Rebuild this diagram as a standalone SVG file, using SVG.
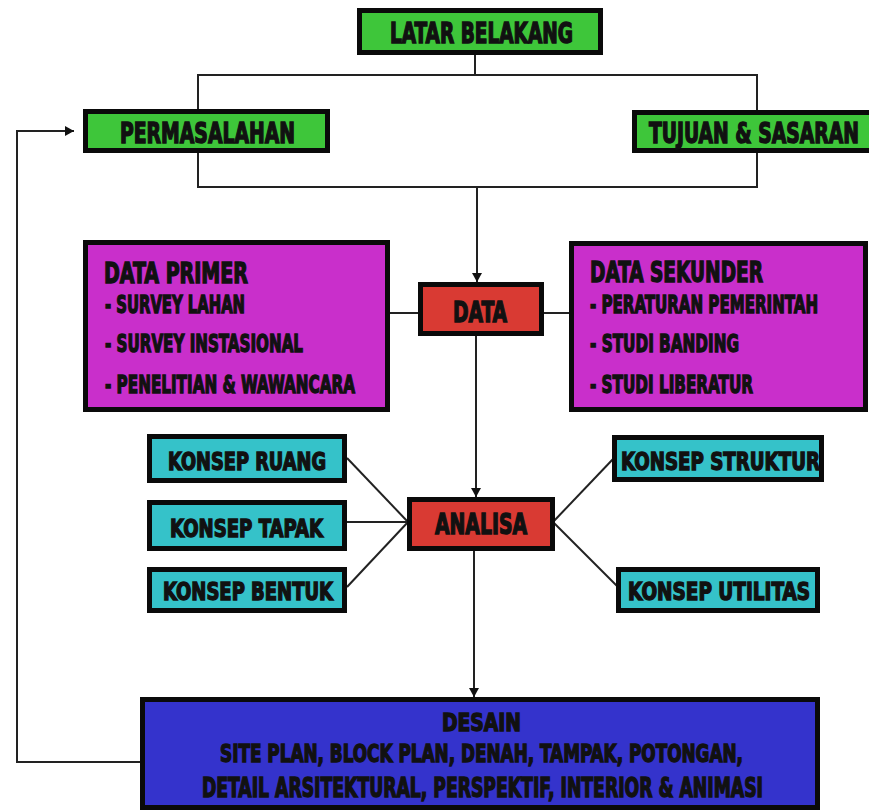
<svg xmlns="http://www.w3.org/2000/svg" width="869" height="810" viewBox="0 0 869 810">
<style>
  .box{stroke:#0a0a0a;stroke-width:5}
  .g{fill:#3ec63a}
  .m{fill:#c92fcb}
  .r{fill:#d93a33}
  .c{fill:#35c2c9}
  .b{fill:#3433cc}
  .t{font-family:"DejaVu Sans Condensed","Liberation Sans Narrow","Liberation Sans",Arial,sans-serif;font-weight:bold;fill:#111;stroke:#111;stroke-width:1;}
  .L{font-size:20px}
  .M{font-size:18px}
  .D{font-size:19px}
  .conn{fill:none;stroke:#222;stroke-width:2}
</style>
<defs>
  <marker id="arr" markerUnits="userSpaceOnUse" markerWidth="10" markerHeight="10" refX="9" refY="5" orient="auto">
    <path d="M0,0 L9,5 L0,10 z" fill="#111"/>
  </marker>
</defs>
<rect width="869" height="810" fill="#ffffff"/>
<g id="connectors">
  <path class="conn" d="M475,55 V75"/>
  <path class="conn" d="M198,111 V75 H757 V112"/>
  <path class="conn" d="M198,153 V187 H757 V153"/>
  <path class="conn" d="M477,187 V282" marker-end="url(#arr)"/>
  <path class="conn" d="M388,313 H420"/>
  <path class="conn" d="M544,313 H571"/>
  <path class="conn" d="M476,336 V497" marker-end="url(#arr)"/>
  <path class="conn" d="M474,551 V697" marker-end="url(#arr)"/>
  <path class="conn" d="M140,762 H17 V131 H74" marker-end="url(#arr)"/>
  <path class="conn" d="M347,458 L408,522"/>
  <path class="conn" d="M347,522 H408"/>
  <path class="conn" d="M347,587 L408,522"/>
  <path class="conn" d="M553,522 L614,458"/>
  <path class="conn" d="M553,522 L618,587"/>
</g>
<g id="latar">
  <rect class="box g" x="359.5" y="10.5" width="241" height="42"/>
  <text class="t L" transform="translate(390,43) scale(1,1.4)" textLength="183" lengthAdjust="spacingAndGlyphs">LATAR BELAKANG</text>
</g>
<g id="permasalahan">
  <rect class="box g" x="85.5" y="111.5" width="242" height="39"/>
  <text class="t L" transform="translate(120,143) scale(1,1.4)" textLength="175" lengthAdjust="spacingAndGlyphs">PERMASALAHAN</text>
</g>
<g id="tujuan">
  <rect class="box g" x="634.5" y="112.5" width="245" height="38"/>
  <text class="t L" transform="translate(649,143) scale(1,1.4)" textLength="210" lengthAdjust="spacingAndGlyphs">TUJUAN &amp; SASARAN</text>
</g>
<g id="data-primer">
  <rect class="box m" x="85.5" y="242.5" width="302" height="167"/>
  <text class="t L" transform="translate(104,283) scale(1,1.4)" textLength="144" lengthAdjust="spacingAndGlyphs">DATA PRIMER</text>
  <text class="t M" transform="translate(105,313) scale(1,1.35)" textLength="140" lengthAdjust="spacingAndGlyphs">- SURVEY LAHAN</text>
  <text class="t M" transform="translate(105,352) scale(1,1.35)" textLength="198" lengthAdjust="spacingAndGlyphs">- SURVEY INSTASIONAL</text>
  <text class="t M" transform="translate(105,393) scale(1,1.35)" textLength="250" lengthAdjust="spacingAndGlyphs">- PENELITIAN &amp; WAWANCARA</text>
</g>
<g id="data">
  <rect class="box r" x="420.5" y="284.5" width="121" height="49"/>
  <text class="t L" transform="translate(453,322) scale(1,1.4)" textLength="54" lengthAdjust="spacingAndGlyphs">DATA</text>
</g>
<g id="data-sekunder">
  <rect class="box m" x="571.5" y="243.5" width="294" height="166"/>
  <text class="t L" transform="translate(590,282) scale(1,1.4)" textLength="173" lengthAdjust="spacingAndGlyphs">DATA SEKUNDER</text>
  <text class="t M" transform="translate(590,313) scale(1,1.35)" textLength="228" lengthAdjust="spacingAndGlyphs">- PERATURAN PEMERINTAH</text>
  <text class="t M" transform="translate(590,352) scale(1,1.35)" textLength="149" lengthAdjust="spacingAndGlyphs">- STUDI BANDING</text>
  <text class="t M" transform="translate(590,393) scale(1,1.35)" textLength="163" lengthAdjust="spacingAndGlyphs">- STUDI LIBERATUR</text>
</g>
<g id="konsep-ruang">
  <rect class="box c" x="149.5" y="436.5" width="195" height="44"/>
  <text class="t M" transform="translate(168,470) scale(1,1.35)" textLength="158" lengthAdjust="spacingAndGlyphs">KONSEP RUANG</text>
</g>
<g id="konsep-tapak">
  <rect class="box c" x="149.5" y="502.5" width="195" height="46"/>
  <text class="t M" transform="translate(170,537) scale(1,1.35)" textLength="153" lengthAdjust="spacingAndGlyphs">KONSEP TAPAK</text>
</g>
<g id="konsep-bentuk">
  <rect class="box c" x="149.5" y="569.5" width="195" height="41"/>
  <text class="t M" transform="translate(163,600) scale(1,1.35)" textLength="170" lengthAdjust="spacingAndGlyphs">KONSEP BENTUK</text>
</g>
<g id="analisa">
  <rect class="box r" x="409.5" y="499.5" width="143" height="49"/>
  <text class="t L" transform="translate(435,534) scale(1,1.4)" textLength="92" lengthAdjust="spacingAndGlyphs">ANALISA</text>
</g>
<g id="konsep-struktur">
  <rect class="box c" x="614.5" y="437.5" width="207" height="42"/>
  <text class="t M" transform="translate(621,470) scale(1,1.35)" textLength="199" lengthAdjust="spacingAndGlyphs">KONSEP STRUKTUR</text>
</g>
<g id="konsep-utilitas">
  <rect class="box c" x="618.5" y="569.5" width="199" height="41"/>
  <text class="t M" transform="translate(628,600) scale(1,1.35)" textLength="182" lengthAdjust="spacingAndGlyphs">KONSEP UTILITAS</text>
</g>
<g id="desain">
  <rect class="box b" x="142.5" y="699.5" width="675" height="108"/>
  <text class="t M" transform="translate(442,731) scale(1,1.35)" textLength="79" lengthAdjust="spacingAndGlyphs">DESAIN</text>
  <text class="t M" transform="translate(220,762) scale(1,1.35)" textLength="523" lengthAdjust="spacingAndGlyphs">SITE PLAN, BLOCK PLAN, DENAH, TAMPAK, POTONGAN,</text>
  <text class="t D" transform="translate(202,797) scale(1,1.4)" textLength="561" lengthAdjust="spacingAndGlyphs">DETAIL ARSITEKTURAL, PERSPEKTIF, INTERIOR &amp; ANIMASI</text>
</g>
</svg>
